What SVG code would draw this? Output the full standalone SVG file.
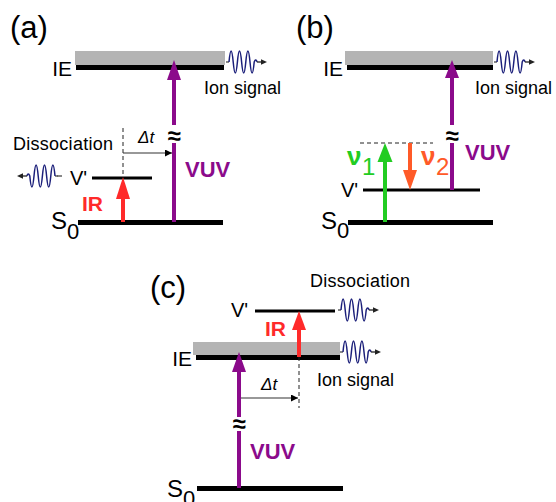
<svg xmlns="http://www.w3.org/2000/svg" width="556" height="502" viewBox="0 0 556 502">
<style>
text{font-family:"Liberation Sans",Arial,sans-serif;fill:#000}
.lbl{font-size:31px}
.lv{font-size:20px}
.ie{font-size:21px}
.sm{font-size:18px}
.s{font-size:24px}
.sub{font-size:22px}
.vuv{fill:#8B0A8B;font-size:22px;font-weight:bold}
.ir{fill:#FF2A2A;font-size:21px;font-weight:bold}
.dt{font-size:17px;font-style:italic}
.ap{font-size:24px;font-weight:bold;text-anchor:middle}
.bar{fill:#B4B4B4}
.thick{stroke:#000;stroke-width:5;fill:none}
.thin{stroke:#000;stroke-width:3;fill:none}
.dash{stroke:#222;stroke-width:1;stroke-dasharray:4 3;fill:none}
.pv{stroke:#8B0A8B;stroke-width:4;fill:none}
.pvh{fill:#8B0A8B}
.red{stroke:#FF2A2A;stroke-width:4;fill:none}
.redh{fill:#FF2A2A}
.grn{stroke:#22CC22;stroke-width:4;fill:none}
.grnh{fill:#22CC22}
.org{stroke:#FF5A28;stroke-width:4;fill:none}
.orgh{fill:#FF5A28}
.ar{stroke:#333;stroke-width:1.2;fill:none}
.nu{font-size:26px;font-weight:bold}
.nsub{font-size:24px}
</style>
<defs>
<marker id="ah" viewBox="0 0 10 10" refX="10" refY="5" markerWidth="7" markerHeight="7" markerUnits="userSpaceOnUse" orient="auto">
<path d="M0,0 L10,5 L0,10 z" fill="#000"/>
</marker>
<g id="wave">
<path d="M0,0 h3" stroke="#555" stroke-width="1.4" fill="none"/>
<path d="M3,0 q2.1,-22 4.2,0 t4.2,0 t4.2,0 t4.2,0 t4.2,0 t4.2,0 q1.5,-4 3,0" stroke="#1B1F7A" stroke-width="1.5" fill="none"/>
<path d="M31,0 h5" stroke="#333" stroke-width="1.4" fill="none"/>
<path d="M35,-2.8 L41,0 L35,2.8 z" fill="#222"/>
</g>
</defs>

<!-- Panel (a) -->
<g id="panel-a">
<text class="lbl" x="10" y="38">(a)</text>
<g id="a-IE">
<rect class="bar" x="75" y="51" width="150" height="14"/>
<line class="thick" x1="76" y1="67.5" x2="224" y2="67.5"/>
<text class="ie" x="72" y="75.5" text-anchor="end">IE</text>
</g>
<g id="a-Vp">
<line class="thin" x1="92" y1="178" x2="152" y2="178"/>
<text class="lv" x="70" y="185">V'</text>
</g>
<g id="a-S0">
<line class="thick" x1="78" y1="222.5" x2="223" y2="222.5"/>
<text class="s" x="51" y="229">S</text><text class="sub" x="67" y="239">0</text>
</g>
<g id="a-ion">
<use href="#wave" x="226" y="62"/>
<text class="sm" x="204" y="94">Ion signal</text>
</g>
<g id="a-diss">
<text class="sm" x="13" y="150" textLength="100">Dissociation</text>
<path d="M57,176 h5" stroke="#555" stroke-width="1.4"/>
<use href="#wave" transform="translate(58,176) scale(-1,1)"/>
</g>
</g>

<!-- Panel (b) -->
<g id="panel-b">
<text class="lbl" x="296" y="38">(b)</text>
<g id="b-IE">
<rect class="bar" x="345" y="51" width="148" height="14"/>
<line class="thick" x1="347" y1="67.5" x2="493" y2="67.5"/>
<text class="ie" x="343" y="75.5" text-anchor="end">IE</text>
</g>
<g id="b-Vp">
<line class="thin" x1="363" y1="190" x2="480" y2="190"/>
<text class="lv" x="341" y="197">V'</text>
</g>
<g id="b-S0">
<line class="thick" x1="348" y1="222.5" x2="493" y2="222.5"/>
<text class="s" x="321" y="229">S</text><text class="sub" x="337" y="238">0</text>
</g>
<g id="b-ion">
<use href="#wave" x="494" y="62"/>
<text class="sm" x="475" y="94">Ion signal</text>
</g>
</g>

<!-- Panel (c) -->
<g id="panel-c">
<text class="lbl" x="150" y="298">(c)</text>
<g id="c-Vp">
<line class="thin" x1="255" y1="311" x2="335" y2="311"/>
<text class="lv" x="231" y="317">V'</text>
<text class="sm" x="310" y="287" textLength="100">Dissociation</text>
<use href="#wave" x="338" y="310"/>
</g>
<g id="c-IE">
<rect class="bar" x="193" y="342" width="147" height="13"/>
<line class="thick" x1="196" y1="357.5" x2="340" y2="357.5"/>
<text class="ie" x="192" y="365.5" text-anchor="end">IE</text>
<use href="#wave" x="340" y="352"/>
<text class="sm" x="317" y="386">Ion signal</text>
</g>
<g id="c-S0">
<line class="thick" x1="197" y1="488.5" x2="343" y2="488.5"/>
<text class="s" x="167" y="497">S</text><text class="sub" x="183" y="506">0</text>
</g>
</g>

<!-- Connectors -->
<g id="connectors">
<!-- (a) VUV -->
<path class="pv" d="M174,222 V143 M174,125 V78"/>
<path class="pvh" d="M167,80 L174,60 L181,80 z"/>
<text class="ap" x="174" y="144">≈</text>
<text class="vuv" x="185" y="177">VUV</text>
<!-- (a) IR -->
<path class="red" d="M123,222 V197"/>
<path class="redh" d="M116,199 L123,177 L130,199 z"/>
<text class="ir" x="82" y="211">IR</text>
<!-- (a) delta t -->
<line class="dash" x1="123" y1="128" x2="123" y2="177"/>
<line class="ar" x1="123" y1="153" x2="172" y2="153" marker-end="url(#ah)"/>
<text class="dt" x="138" y="143">Δt</text>

<!-- (b) VUV -->
<path class="pv" d="M452,190 V143 M452,125 V76"/>
<path class="pvh" d="M445,78 L452,60 L459,78 z"/>
<text class="ap" x="452" y="144">≈</text>
<text class="vuv" x="465" y="160">VUV</text>
<!-- (b) nu1 / nu2 -->
<line class="dash" x1="360" y1="143" x2="433" y2="143"/>
<path class="grn" d="M385,222 V160"/>
<path class="grnh" d="M377.5,162 L385,143 L392.5,162 z"/>
<text class="nu" x="347" y="165" style="fill:#22CC22">ν</text><text class="nsub" x="362" y="175" style="fill:#22CC22">1</text>
<path class="org" d="M410,143 V172"/>
<path class="orgh" d="M403,170 L410,190 L417,170 z"/>
<text class="nu" x="421" y="165" style="fill:#FF5A28">ν</text><text class="nsub" x="436" y="175" style="fill:#FF5A28">2</text>

<!-- (c) VUV -->
<path class="pv" d="M239,488 V431 M239,417 V370"/>
<path class="pvh" d="M232,372 L239,352 L246,372 z"/>
<text class="ap" x="239" y="432">≈</text>
<text class="vuv" x="250" y="459">VUV</text>
<!-- (c) IR -->
<path class="red" d="M299,357 V328"/>
<path class="redh" d="M292,330 L299,311 L306,330 z"/>
<text class="ir" x="265" y="336">IR</text>
<!-- (c) delta t -->
<line class="dash" x1="299" y1="357" x2="299" y2="408"/>
<line class="ar" x1="241" y1="398" x2="298" y2="398" marker-end="url(#ah)"/>
<text class="dt" x="261" y="390">Δt</text>
</g>
</svg>
